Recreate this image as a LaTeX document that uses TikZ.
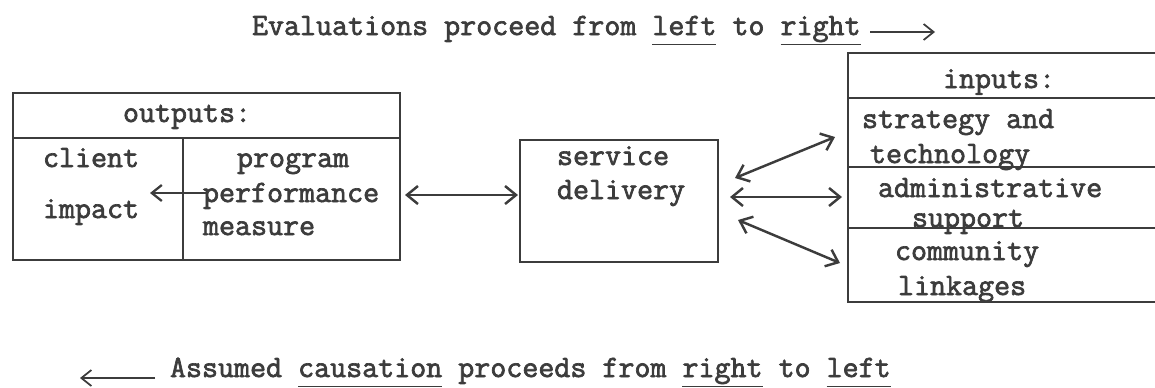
\documentclass[tikz,border=0pt]{standalone}
\usepackage{fontspec}
\setmainfont{Latin Modern Mono}[FakeBold=2.2]
\usetikzlibrary{arrows.meta,fit}
\definecolor{ink}{HTML}{3C3C3C}
\newcommand\ul[1]{\underline{#1\vphantom{g}}}
\begin{document}
\begin{tikzpicture}[x=0.02cm, y=-0.02cm,
  txt/.style={anchor=base west, inner sep=0, outer sep=0, text=ink,
              font=\fontsize{17.7}{20}\selectfont},
  rule/.style={draw=ink, line width=1.2pt},
  frame/.style={rule, inner sep=0, outer sep=0},
  link/.style={draw=ink, line width=1.4pt,
               {Straight Barb[length=2.2mm,width=3.6mm]}-{Straight Barb[length=2.2mm,width=3.6mm]}},
  oneway/.style={draw=ink, line width=1pt, -{Straight Barb[length=2mm,width=3.2mm]}}]
\useasboundingbox (0,0) rectangle (1155,387);

% heading and footer notes
\node[txt] (evalnote) at (252,35) {Evaluations proceed from \ul{left} to \ul{right}};
\coordinate (evalA) at (870,32);
\coordinate (evalB) at (935,32);
\draw[oneway] (evalA) -- (evalB);

\node[txt] (causenote) at (170,377) {Assumed \ul{causation} proceeds from \ul{right} to \ul{left}};
\coordinate (causeA) at (155,378);
\coordinate (causeB) at (80,378);
\draw[oneway] (causeA) -- (causeB);

% outputs box
\node[frame, fit={(13,93) (400,260)}] (outputs) {};
\draw[rule] (13,138) -- (400,138);
\draw[rule] (183,138) -- (183,260);
\node[txt] (outhead) at (123,122) {outputs:};
\node[txt] (client) at (43,167) {client};
\node[txt] (impact) at (43,218) {impact};
\node[txt] (program) at (237,167) {program};
\node[txt] (perf) at (203,202) {performance};
\node[txt] (measure) at (203,235) {measure};
\coordinate (perfL) at (206,193);
\coordinate (impactR) at (150,193);
\draw[oneway, line width=1.3pt] (perfL) -- (impactR);

% service delivery box
\node[frame, fit={(520,140) (718,262)}] (service) {};
\node[txt] (svc1) at (557,165) {service};
\node[txt] (svc2) at (557,199) {delivery};

% inputs box (open on the right)
\draw[rule] (1155,53) -- (848,53) -- (848,302) -- (1155,302);
\foreach \yy in {98,167,228} \draw[rule] (848,\yy) -- (1155,\yy);
\node[txt] (inhead) at (943,88) {inputs:};
\node[txt] (strat) at (862,128) {strategy and};
\node[txt] (tech) at (870,163) {technology};
\node[txt] (admin) at (878,197) {administrative};
\node[txt] (supp) at (912,227) {support};
\node[txt] (comm) at (895,260) {community};
\node[txt] (link) at (898,295) {linkages};

% two-way links
\coordinate (o1) at (405,195);
\coordinate (s1) at (518,195);
\draw[link] (o1) -- (s1);

\coordinate (sA) at (735,178);
\coordinate (iA) at (835,137);
\draw[link] (sA) -- (iA);
\coordinate (sB) at (730,197);
\coordinate (iB) at (842,197);
\draw[link] (sB) -- (iB);
\coordinate (sC) at (738,220);
\coordinate (iC) at (840,263);
\draw[link] (sC) -- (iC);
\end{tikzpicture}
\end{document}
